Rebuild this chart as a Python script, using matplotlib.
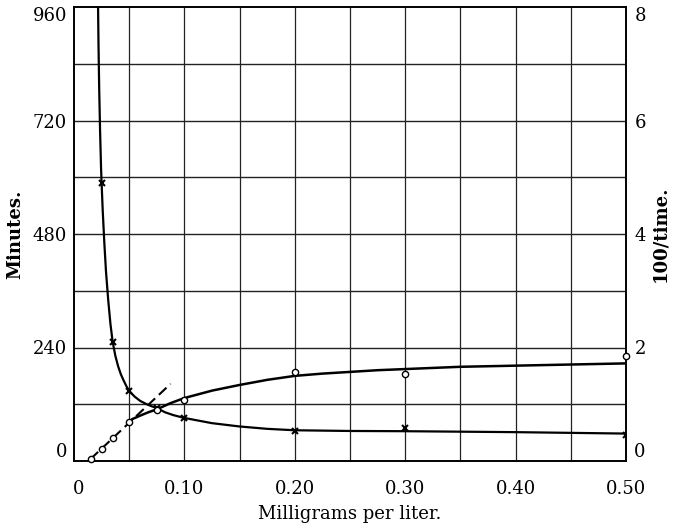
import matplotlib
matplotlib.use("Agg")
import matplotlib.pyplot as plt
import matplotlib.transforms as mtransforms

# Observed points: time (minutes) vs concentration (x marks)
time_x = [0.025, 0.035, 0.05, 0.075, 0.1, 0.2, 0.3, 0.5]
time_min = [588, 252, 148, 113, 90, 63, 69, 54]

# Smooth time curve
tcurve_x = [0.0218, 0.0222, 0.0228, 0.0236, 0.0245, 0.025, 0.026, 0.0275, 0.029,
            0.031, 0.033, 0.035, 0.0375, 0.04, 0.0425, 0.045, 0.0475, 0.05,
            0.055, 0.06, 0.065, 0.07, 0.075, 0.0825, 0.09, 0.1, 0.125, 0.15,
            0.175, 0.2, 0.25, 0.3, 0.35, 0.4, 0.45, 0.5]
tcurve_y = [960, 880, 790, 700, 620, 588, 530, 460, 400,
            340, 290, 252, 222, 200, 183, 170, 158, 148,
            136, 127, 121, 116, 112, 103, 97, 91, 80, 73,
            68, 65, 63.5, 63, 62, 61, 59.5, 58]

# Observed points: 100/time (circles), right axis
rate_x = [0.015, 0.025, 0.035, 0.05, 0.075, 0.1, 0.2, 0.3, 0.5]
rate_y = [0.035, 0.22, 0.41, 0.68, 0.89, 1.07, 1.56, 1.53, 1.855]

# Smooth rate curve
rcurve_x = [0.053, 0.06, 0.0675, 0.075, 0.0875, 0.1, 0.125, 0.15, 0.175, 0.2,
            0.225, 0.25, 0.275, 0.3, 0.35, 0.4, 0.45, 0.5]
rcurve_y = [0.74, 0.80, 0.86, 0.91, 1.02, 1.11, 1.24, 1.34, 1.43, 1.50,
            1.54, 1.57, 1.60, 1.62, 1.66, 1.68, 1.70, 1.72]

# Dashed initial line
dash_x = [0.015, 0.0875]
dash_y = [0.035, 1.36]

xticks = [0, 0.10, 0.20, 0.30, 0.40, 0.50]
xticklabels = ["0", "0.10", "0.20", "0.30", "0.40", "0.50"]
lticks = [0, 240, 480, 720, 960]
rticks = [0, 2, 4, 6, 8]

plt.rcParams['font.family'] = ['DejaVu Serif']

fig = plt.figure(figsize=(6.81, 5.27), dpi=100)
ax = fig.add_axes([74/681, 66/527, 552/681, 454/527])
ax2 = ax.twinx()

ax.set_xlim(0, 0.5)
ax.set_ylim(0, 960)
ax2.set_ylim(0, 8)

# grid
for gx in [i * 0.05 for i in range(1, 10)]:
    ax.axvline(gx, color='#222222', lw=0.9, zorder=1)
for gy in range(120, 960, 120):
    ax.axhline(gy, color='#222222', lw=1.0, zorder=1)

ax.plot(tcurve_x, tcurve_y, color='black', lw=1.6, zorder=3, clip_on=True)
ax.plot(time_x, time_min, linestyle='none', marker='x', ms=4, mew=1.5,
        color='black', zorder=4)

ax2.plot(rcurve_x, rcurve_y, color='black', lw=1.8, zorder=3)
ax2.plot(dash_x, dash_y, color='black', lw=1.5, ls=(0, (5, 2.5)), zorder=3)
ax2.plot(rate_x, rate_y, linestyle='none', marker='o', ms=4.5, mew=1.0,
        mfc='white', mec='black', zorder=5, clip_on=False)

ax.set_xticks(xticks)
ax.set_xticklabels(xticklabels)
ax.set_yticks(lticks)
ax2.set_yticks(rticks)

for a in (ax, ax2):
    a.tick_params(length=0, labelsize=13)
    for s in a.spines.values():
        s.set_color('black')
        s.set_linewidth(1.2)
ax.tick_params(axis='x', pad=14)
ax.tick_params(axis='y', pad=5)
ax2.tick_params(axis='y', pad=6)

# nudge end labels like the printed original
first = ax.get_xticklabels()[0]
first.set_transform(first.get_transform() +
                    mtransforms.ScaledTranslation(5/100, 0, fig.dpi_scale_trans))
for lab in (ax.get_yticklabels()[0], ax2.get_yticklabels()[0]):
    lab.set_va('bottom')
for lab in (ax.get_yticklabels()[-1], ax2.get_yticklabels()[-1]):
    lab.set_va('top')

ax.set_xlabel("Milligrams per liter.", fontsize=13, labelpad=5)
ax.set_ylabel("Minutes.", fontsize=13, fontweight='bold', labelpad=6)
ax2.set_ylabel("100/time.", fontsize=13, fontweight='bold', labelpad=4)

fig.savefig("out.png", dpi=100)
